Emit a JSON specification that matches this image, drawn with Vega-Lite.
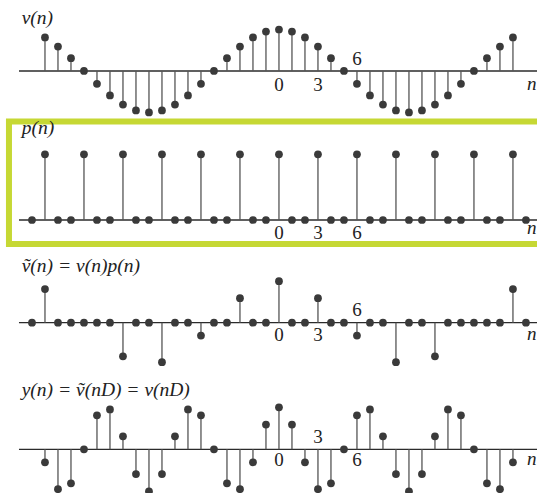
{
  "$schema": "https://vega.github.io/schema/vega-lite/v6.json",
  "padding": 0,
  "background": "white",
  "spacing": 0,
  "bounds": "flush",
  "config": {"view": {"stroke": null}},
  "datasets": {
    "v": [
      {"n": -18, "value": 0.81}, {"n": -17, "value": 0.59}, {"n": -16, "value": 0.31}, {"n": -15, "value": 0},
      {"n": -14, "value": -0.31}, {"n": -13, "value": -0.59}, {"n": -12, "value": -0.81}, {"n": -11, "value": -0.95},
      {"n": -10, "value": -1}, {"n": -9, "value": -0.95}, {"n": -8, "value": -0.81}, {"n": -7, "value": -0.59},
      {"n": -6, "value": -0.31}, {"n": -5, "value": 0}, {"n": -4, "value": 0.31}, {"n": -3, "value": 0.59},
      {"n": -2, "value": 0.81}, {"n": -1, "value": 0.95}, {"n": 0, "value": 1}, {"n": 1, "value": 0.95},
      {"n": 2, "value": 0.81}, {"n": 3, "value": 0.59}, {"n": 4, "value": 0.31}, {"n": 5, "value": 0},
      {"n": 6, "value": -0.31}, {"n": 7, "value": -0.59}, {"n": 8, "value": -0.81}, {"n": 9, "value": -0.95},
      {"n": 10, "value": -1}, {"n": 11, "value": -0.95}, {"n": 12, "value": -0.81}, {"n": 13, "value": -0.59},
      {"n": 14, "value": -0.31}, {"n": 15, "value": 0}, {"n": 16, "value": 0.31}, {"n": 17, "value": 0.59},
      {"n": 18, "value": 0.81}
    ],
    "p": [
      {"n": -19, "value": 0}, {"n": -18, "value": 1}, {"n": -17, "value": 0}, {"n": -16, "value": 0},
      {"n": -15, "value": 1}, {"n": -14, "value": 0}, {"n": -13, "value": 0}, {"n": -12, "value": 1},
      {"n": -11, "value": 0}, {"n": -10, "value": 0}, {"n": -9, "value": 1}, {"n": -8, "value": 0},
      {"n": -7, "value": 0}, {"n": -6, "value": 1}, {"n": -5, "value": 0}, {"n": -4, "value": 0},
      {"n": -3, "value": 1}, {"n": -2, "value": 0}, {"n": -1, "value": 0}, {"n": 0, "value": 1},
      {"n": 1, "value": 0}, {"n": 2, "value": 0}, {"n": 3, "value": 1}, {"n": 4, "value": 0},
      {"n": 5, "value": 0}, {"n": 6, "value": 1}, {"n": 7, "value": 0}, {"n": 8, "value": 0},
      {"n": 9, "value": 1}, {"n": 10, "value": 0}, {"n": 11, "value": 0}, {"n": 12, "value": 1},
      {"n": 13, "value": 0}, {"n": 14, "value": 0}, {"n": 15, "value": 1}, {"n": 16, "value": 0},
      {"n": 17, "value": 0}, {"n": 18, "value": 1}, {"n": 19, "value": 0}
    ],
    "vt": [
      {"n": -19, "value": 0}, {"n": -18, "value": 0.81}, {"n": -17, "value": 0}, {"n": -16, "value": 0},
      {"n": -15, "value": 0}, {"n": -14, "value": 0}, {"n": -13, "value": 0}, {"n": -12, "value": -0.81},
      {"n": -11, "value": 0}, {"n": -10, "value": 0}, {"n": -9, "value": -0.95}, {"n": -8, "value": 0},
      {"n": -7, "value": 0}, {"n": -6, "value": -0.31}, {"n": -5, "value": 0}, {"n": -4, "value": 0},
      {"n": -3, "value": 0.59}, {"n": -2, "value": 0}, {"n": -1, "value": 0}, {"n": 0, "value": 1},
      {"n": 1, "value": 0}, {"n": 2, "value": 0}, {"n": 3, "value": 0.59}, {"n": 4, "value": 0},
      {"n": 5, "value": 0}, {"n": 6, "value": -0.31}, {"n": 7, "value": 0}, {"n": 8, "value": 0},
      {"n": 9, "value": -0.95}, {"n": 10, "value": 0}, {"n": 11, "value": 0}, {"n": 12, "value": -0.81},
      {"n": 13, "value": 0}, {"n": 14, "value": 0}, {"n": 15, "value": 0}, {"n": 16, "value": 0},
      {"n": 17, "value": 0}, {"n": 18, "value": 0.81}, {"n": 19, "value": 0}
    ],
    "y": [
      {"n": -18, "value": -0.31}, {"n": -17, "value": -0.95}, {"n": -16, "value": -0.81}, {"n": -15, "value": 0},
      {"n": -14, "value": 0.81}, {"n": -13, "value": 0.95}, {"n": -12, "value": 0.31}, {"n": -11, "value": -0.59},
      {"n": -10, "value": -1}, {"n": -9, "value": -0.59}, {"n": -8, "value": 0.31}, {"n": -7, "value": 0.95},
      {"n": -6, "value": 0.81}, {"n": -5, "value": 0}, {"n": -4, "value": -0.81}, {"n": -3, "value": -0.95},
      {"n": -2, "value": -0.31}, {"n": -1, "value": 0.59}, {"n": 0, "value": 1}, {"n": 1, "value": 0.59},
      {"n": 2, "value": -0.31}, {"n": 3, "value": -0.95}, {"n": 4, "value": -0.81}, {"n": 5, "value": 0},
      {"n": 6, "value": 0.81}, {"n": 7, "value": 0.95}, {"n": 8, "value": 0.31}, {"n": 9, "value": -0.59},
      {"n": 10, "value": -1}, {"n": 11, "value": -0.59}, {"n": 12, "value": 0.31}, {"n": 13, "value": 0.95},
      {"n": 14, "value": 0.81}, {"n": 15, "value": 0}, {"n": 16, "value": -0.81}, {"n": 17, "value": -0.95},
      {"n": 18, "value": -0.31}
    ],
    "ticks_v": [{"n": 0, "label": "0", "side": "below"}, {"n": 3, "label": "3", "side": "below"}, {"n": 6, "label": "6", "side": "above"}],
    "ticks_p": [{"n": 0, "label": "0", "side": "below"}, {"n": 3, "label": "3", "side": "below"}, {"n": 6, "label": "6", "side": "below"}],
    "ticks_vt": [{"n": 0, "label": "0", "side": "below"}, {"n": 3, "label": "3", "side": "below"}, {"n": 6, "label": "6", "side": "above"}],
    "ticks_y": [{"n": 0, "label": "0", "side": "below"}, {"n": 3, "label": "3", "side": "above"}, {"n": 6, "label": "6", "side": "below"}],
    "one": [{"row": 1}]
  },
  "vconcat": [
    {
      "width": 537, "height": 118,
      "layer": [
        {
          "data": {"name": "one"},
          "mark": {"type": "rule", "color": "#2b2b2b", "strokeWidth": 1.3, "clip": true},
          "encoding": {
            "x": {"datum": -20, "type": "quantitative", "scale": {"domain": [-21.46, 19.85], "nice": false, "zero": false}, "axis": null},
            "x2": {"datum": 21},
            "y": {"datum": 0, "type": "quantitative", "scale": {"domain": [-1.133, 1.711], "nice": false, "zero": false}, "axis": null}
          }
        },
        {
          "data": {"name": "v"},
          "mark": {"type": "rule", "color": "#555555", "strokeWidth": 1.3},
          "encoding": {"x": {"field": "n", "type": "quantitative"}, "y": {"field": "value", "type": "quantitative"}, "y2": {"datum": 0}}
        },
        {
          "data": {"name": "v"},
          "mark": {"type": "circle", "color": "#3a3a3a", "opacity": 1, "size": 60},
          "encoding": {"x": {"field": "n", "type": "quantitative"}, "y": {"field": "value", "type": "quantitative"}}
        },
        {
          "data": {"name": "ticks_v"},
          "transform": [{"filter": "datum.side === 'below'"}],
          "mark": {"type": "text", "font": "Liberation Serif", "fontSize": 19, "color": "#222", "baseline": "alphabetic", "align": "center", "dy": 20},
          "encoding": {"x": {"field": "n", "type": "quantitative"}, "y": {"datum": 0, "type": "quantitative"}, "text": {"field": "label"}}
        },
        {
          "data": {"name": "ticks_v"},
          "transform": [{"filter": "datum.side === 'above'"}],
          "mark": {"type": "text", "font": "Liberation Serif", "fontSize": 19, "color": "#222", "baseline": "alphabetic", "align": "center", "dy": -6},
          "encoding": {"x": {"field": "n", "type": "quantitative"}, "y": {"datum": 0, "type": "quantitative"}, "text": {"field": "label"}}
        },
        {
          "data": {"name": "one"},
          "mark": {"type": "text", "font": "Liberation Serif", "fontStyle": "italic", "fontSize": 19, "color": "#222", "baseline": "alphabetic", "align": "left", "dy": 19},
          "encoding": {"x": {"datum": 19.08, "type": "quantitative"}, "y": {"datum": 0, "type": "quantitative"}, "text": {"value": "n"}}
        },
        {
          "data": {"name": "one"},
          "mark": {"type": "text", "font": "Liberation Serif", "fontStyle": "italic", "fontSize": 19.5, "color": "#222", "baseline": "alphabetic", "align": "left"},
          "encoding": {"x": {"datum": -19.79, "type": "quantitative"}, "y": {"datum": 1.14, "type": "quantitative"}, "text": {"value": "v(n)"}}
        }
      ]
    },
    {
      "width": 537, "height": 132,
      "layer": [
        {
          "data": {"name": "one"},
          "mark": {"type": "rect", "fill": null, "stroke": "#c6d834", "strokeWidth": 6, "clip": true},
          "encoding": {
            "x": {"datum": -20.77, "type": "quantitative", "scale": {"domain": [-21.46, 19.85], "nice": false, "zero": false}, "axis": null},
            "x2": {"datum": 21.5},
            "y": {"datum": 1.499, "type": "quantitative", "scale": {"domain": [-0.4566, 1.5525], "nice": false, "zero": false}, "axis": null},
            "y2": {"datum": -0.365}
          }
        },
        {
          "data": {"name": "one"},
          "mark": {"type": "rule", "color": "#2b2b2b", "strokeWidth": 1.3, "clip": true},
          "encoding": {"x": {"datum": -20, "type": "quantitative"}, "x2": {"datum": 21}, "y": {"datum": 0, "type": "quantitative"}}
        },
        {
          "data": {"name": "p"},
          "mark": {"type": "rule", "color": "#555555", "strokeWidth": 1.3},
          "encoding": {"x": {"field": "n", "type": "quantitative"}, "y": {"field": "value", "type": "quantitative"}, "y2": {"datum": 0}}
        },
        {
          "data": {"name": "p"},
          "mark": {"type": "circle", "color": "#3a3a3a", "opacity": 1, "size": 60},
          "encoding": {"x": {"field": "n", "type": "quantitative"}, "y": {"field": "value", "type": "quantitative"}}
        },
        {
          "data": {"name": "ticks_p"},
          "mark": {"type": "text", "font": "Liberation Serif", "fontSize": 19, "color": "#222", "baseline": "alphabetic", "align": "center", "dy": 19},
          "encoding": {"x": {"field": "n", "type": "quantitative"}, "y": {"datum": 0, "type": "quantitative"}, "text": {"field": "label"}}
        },
        {
          "data": {"name": "one"},
          "mark": {"type": "text", "font": "Liberation Serif", "fontStyle": "italic", "fontSize": 19, "color": "#222", "baseline": "alphabetic", "align": "left", "dy": 14},
          "encoding": {"x": {"datum": 19.08, "type": "quantitative"}, "y": {"datum": 0, "type": "quantitative"}, "text": {"value": "n"}}
        },
        {
          "data": {"name": "one"},
          "mark": {"type": "text", "font": "Liberation Serif", "fontStyle": "italic", "fontSize": 19.5, "color": "#222", "baseline": "alphabetic", "align": "left"},
          "encoding": {"x": {"datum": -19.79, "type": "quantitative"}, "y": {"datum": 1.309, "type": "quantitative"}, "text": {"value": "p(n)"}}
        }
      ]
    },
    {
      "width": 537, "height": 125,
      "layer": [
        {
          "data": {"name": "one"},
          "mark": {"type": "rule", "color": "#2b2b2b", "strokeWidth": 1.3, "clip": true},
          "encoding": {
            "x": {"datum": -20, "type": "quantitative", "scale": {"domain": [-21.46, 19.85], "nice": false, "zero": false}, "axis": null},
            "x2": {"datum": 21},
            "y": {"datum": 0, "type": "quantitative", "scale": {"domain": [-1.26, 1.752], "nice": false, "zero": false}, "axis": null}
          }
        },
        {
          "data": {"name": "vt"},
          "mark": {"type": "rule", "color": "#555555", "strokeWidth": 1.3},
          "encoding": {"x": {"field": "n", "type": "quantitative"}, "y": {"field": "value", "type": "quantitative"}, "y2": {"datum": 0}}
        },
        {
          "data": {"name": "vt"},
          "mark": {"type": "circle", "color": "#3a3a3a", "opacity": 1, "size": 60},
          "encoding": {"x": {"field": "n", "type": "quantitative"}, "y": {"field": "value", "type": "quantitative"}}
        },
        {
          "data": {"name": "ticks_vt"},
          "transform": [{"filter": "datum.side === 'below'"}],
          "mark": {"type": "text", "font": "Liberation Serif", "fontSize": 19, "color": "#222", "baseline": "alphabetic", "align": "center", "dy": 18},
          "encoding": {"x": {"field": "n", "type": "quantitative"}, "y": {"datum": 0, "type": "quantitative"}, "text": {"field": "label"}}
        },
        {
          "data": {"name": "ticks_vt"},
          "transform": [{"filter": "datum.side === 'above'"}],
          "mark": {"type": "text", "font": "Liberation Serif", "fontSize": 19, "color": "#222", "baseline": "alphabetic", "align": "center", "dy": -7},
          "encoding": {"x": {"field": "n", "type": "quantitative"}, "y": {"datum": 0, "type": "quantitative"}, "text": {"field": "label"}}
        },
        {
          "data": {"name": "one"},
          "mark": {"type": "text", "font": "Liberation Serif", "fontStyle": "italic", "fontSize": 19, "color": "#222", "baseline": "alphabetic", "align": "left", "dy": 17},
          "encoding": {"x": {"datum": 19.08, "type": "quantitative"}, "y": {"datum": 0, "type": "quantitative"}, "text": {"value": "n"}}
        },
        {
          "data": {"name": "one"},
          "mark": {"type": "text", "font": "Liberation Serif", "fontStyle": "italic", "fontSize": 19.5, "color": "#222", "baseline": "alphabetic", "align": "left"},
          "encoding": {"x": {"datum": -19.79, "type": "quantitative"}, "y": {"datum": 1.222, "type": "quantitative"}, "text": {"value": "ṽ(n) = v(n)p(n)"}}
        }
      ]
    },
    {
      "width": 537, "height": 118,
      "layer": [
        {
          "data": {"name": "one"},
          "mark": {"type": "rule", "color": "#2b2b2b", "strokeWidth": 1.3, "clip": true},
          "encoding": {
            "x": {"datum": -20, "type": "quantitative", "scale": {"domain": [-21.46, 19.85], "nice": false, "zero": false}, "axis": null},
            "x2": {"datum": 21},
            "y": {"datum": 0, "type": "quantitative", "scale": {"domain": [-1.04, 1.769], "nice": false, "zero": false}, "axis": null}
          }
        },
        {
          "data": {"name": "y"},
          "mark": {"type": "rule", "color": "#555555", "strokeWidth": 1.3, "clip": true},
          "encoding": {"x": {"field": "n", "type": "quantitative"}, "y": {"field": "value", "type": "quantitative"}, "y2": {"datum": 0}}
        },
        {
          "data": {"name": "y"},
          "mark": {"type": "circle", "color": "#3a3a3a", "opacity": 1, "size": 60, "clip": true},
          "encoding": {"x": {"field": "n", "type": "quantitative"}, "y": {"field": "value", "type": "quantitative"}}
        },
        {
          "data": {"name": "ticks_y"},
          "transform": [{"filter": "datum.side === 'below'"}],
          "mark": {"type": "text", "font": "Liberation Serif", "fontSize": 19, "color": "#222", "baseline": "alphabetic", "align": "center", "dy": 17},
          "encoding": {"x": {"field": "n", "type": "quantitative"}, "y": {"datum": 0, "type": "quantitative"}, "text": {"field": "label"}}
        },
        {
          "data": {"name": "ticks_y"},
          "transform": [{"filter": "datum.side === 'above'"}],
          "mark": {"type": "text", "font": "Liberation Serif", "fontSize": 19, "color": "#222", "baseline": "alphabetic", "align": "center", "dy": -6},
          "encoding": {"x": {"field": "n", "type": "quantitative"}, "y": {"datum": 0, "type": "quantitative"}, "text": {"field": "label"}}
        },
        {
          "data": {"name": "one"},
          "mark": {"type": "text", "font": "Liberation Serif", "fontStyle": "italic", "fontSize": 19, "color": "#222", "baseline": "alphabetic", "align": "left", "dy": 16},
          "encoding": {"x": {"datum": 19.08, "type": "quantitative"}, "y": {"datum": 0, "type": "quantitative"}, "text": {"value": "n"}}
        },
        {
          "data": {"name": "one"},
          "mark": {"type": "text", "font": "Liberation Serif", "fontStyle": "italic", "fontSize": 19.5, "color": "#222", "baseline": "alphabetic", "align": "left"},
          "encoding": {"x": {"datum": -19.79, "type": "quantitative"}, "y": {"datum": 1.269, "type": "quantitative"}, "text": {"value": "y(n) = ṽ(nD) = v(nD)"}}
        }
      ]
    }
  ]
}
